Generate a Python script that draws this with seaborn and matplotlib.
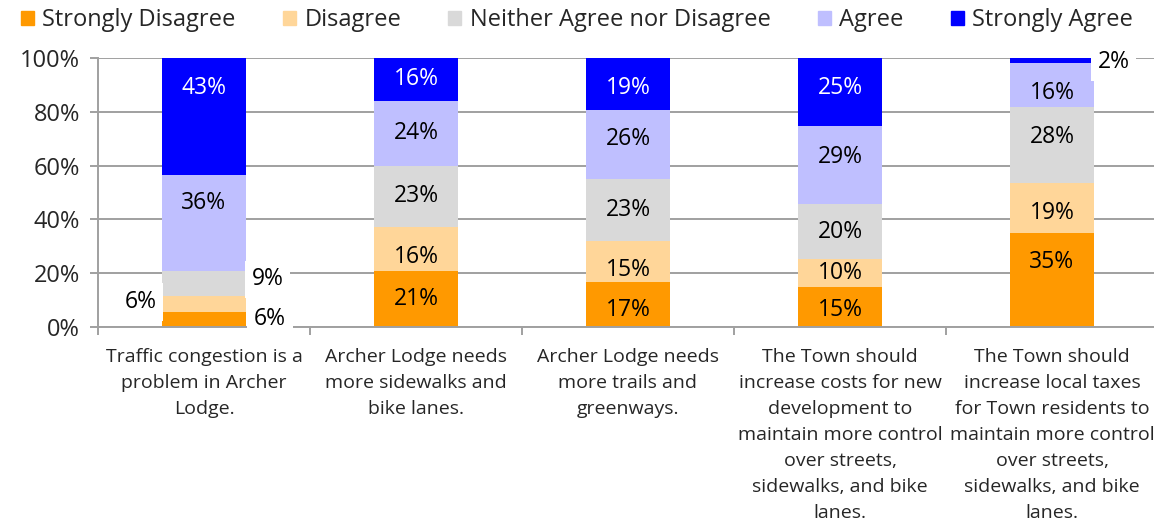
import matplotlib
matplotlib.use("Agg")
import matplotlib.pyplot as plt
import matplotlib.patches as mpatches
import seaborn as sns
import pandas as pd
import numpy as np

categories = [
    "Traffic congestion is a\nproblem in Archer\nLodge.",
    "Archer Lodge needs\nmore sidewalks and\nbike lanes.",
    "Archer Lodge needs\nmore trails and\ngreenways.",
    "The Town should\nincrease costs for new\ndevelopment to\nmaintain more control\nover streets,\nsidewalks, and bike\nlanes.",
    "The Town should\nincrease local taxes\nfor Town residents to\nmaintain more control\nover streets,\nsidewalks, and bike\nlanes.",
]
series_names = ["Strongly Disagree", "Disagree", "Neither Agree nor Disagree", "Agree", "Strongly Agree"]
strongly_disagree = [5.6, 20.9, 16.7, 14.8, 35.0]
disagree = [6.0, 16.2, 15.1, 10.4, 18.6]
neither = [9.4, 22.9, 23.2, 20.4, 28.3]
agree = [35.6, 24.1, 25.6, 29.0, 16.4]
strongly_agree = [43.4, 15.9, 19.4, 25.4, 1.7]
colors = ["#FF9900", "#FFD699", "#D9D9D9", "#BFBFFF", "#0000FF"]
label_colors = ["black", "black", "black", "black", "white"]
ytick_labels = ["0%", "20%", "40%", "60%", "80%", "100%"]

series_values = [strongly_disagree, disagree, neither, agree, strongly_agree]

# label placement nudges (category index, series index) -> (dx in category units, dy in %)
outside_labels = {(0, 0): (0.31, 0.1), (0, 1): (-0.30, 0.8), (0, 2): (0.30, 1.4), (4, 4): (0.29, -0.5)}
inside_nudges = {(0, 4): 10.6, (0, 3): 7.3, (1, 1): -2.9,
                 (2, 4): -1.3, (2, 3): 2.1, (2, 1): -3.2, (2, 0): -2.0,
                 (3, 4): 1.7, (3, 3): 3.2, (3, 0): -1.1,
                 (4, 3): -3.0, (4, 2): 2.7, (4, 1): -1.9, (4, 0): 6.7}

sns.set_theme(style="white")
plt.rcParams["font.family"] = ["Open Sans", "DejaVu Sans"]

fig = plt.figure(figsize=(11.54, 5.23), dpi=100)
ax = fig.add_axes([98 / 1154, 196 / 523, 1060 / 1154, 269 / 523])

n = len(categories)
bottom = np.zeros(n)
for name, vals, col in zip(series_names, series_values, colors):
    df = pd.DataFrame({"cat": categories, "val": vals})
    sns.barplot(data=df, x="cat", y="val", order=categories, color=col,
                width=0.4, bottom=bottom.copy(), ax=ax, linewidth=0,
                edgecolor="none", saturation=1, zorder=3, errorbar=None)
    bottom += np.array(vals)

cum = np.zeros(n)
for si, vals in enumerate(series_values):
    for ci, v in enumerate(vals):
        center = cum[ci] + v / 2
        if (ci, si) in outside_labels:
            dx, dy = outside_labels[(ci, si)]
            ax.text(ci + dx, center + dy, f"{v:.0f}%", ha="center", va="center",
                    fontsize=16.5, color="black", zorder=6,
                    bbox=dict(boxstyle="square,pad=0.3", fc="white", ec="none"))
        else:
            dy = inside_nudges.get((ci, si), 0.0)
            ax.text(ci, center + dy, f"{v:.0f}%", ha="center", va="center",
                    fontsize=16.5, color=label_colors[si], zorder=6)
    cum += np.array(vals)

ax.set_xlim(-0.5, n - 0.5)
ax.set_ylim(0, 100)
ax.set_yticks([0, 20, 40, 60, 80, 100])
ax.set_yticklabels(ytick_labels)
ax.set_xlabel("")
ax.set_ylabel("")
ax.yaxis.grid(True, color="#A0A0A0", linewidth=1.4, zorder=0)
ax.set_axisbelow(True)
ax.tick_params(axis="y", length=6, width=1.4, color="#A0A0A0", labelsize=17, pad=7, left=True)
ax.set_xticks(range(n))
ax.set_xticklabels(categories, fontsize=14, linespacing=1.57)
ax.set_xticks(np.arange(-0.5, n, 1.0), minor=True)
ax.tick_params(axis="x", which="major", length=0, pad=15)
ax.tick_params(axis="x", which="minor", length=6, width=1.4, color="#A0A0A0", bottom=True)

for s in ["top", "right"]:
    ax.spines[s].set_visible(False)
for s in ["left", "bottom"]:
    ax.spines[s].set_color("#A0A0A0")
    ax.spines[s].set_linewidth(1.4)
    ax.spines[s].set_zorder(4)

handles = [mpatches.Patch(color=c, label=nm) for nm, c in zip(series_names, colors)]
fig.legend(handles=handles, loc="center", bbox_to_anchor=(0.5, 1 - 20 / 523), ncol=5,
           frameon=False, fontsize=17, handlelength=0.55, handleheight=0.55,
           handletextpad=0.35, columnspacing=2.0, borderaxespad=0)

fig.savefig("out.png", dpi=100, facecolor="white")
